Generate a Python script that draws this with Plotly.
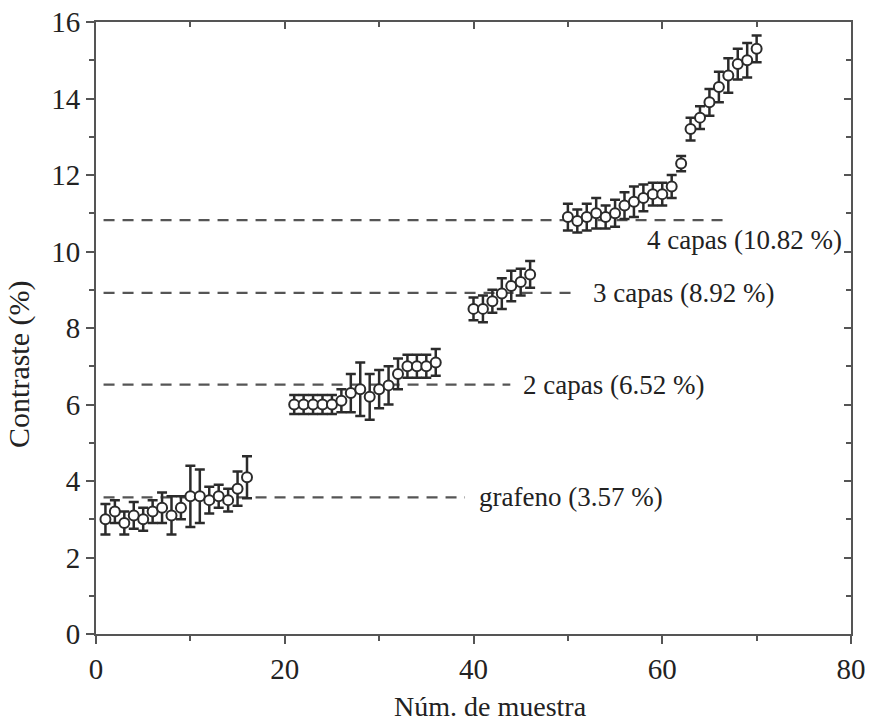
import plotly.graph_objects as go

# Optical contrast of each sample, grouped by number of layers
x_mono = list(range(1, 17))
y_mono = [3.0, 3.2, 2.9, 3.1, 3.0, 3.2, 3.3, 3.1, 3.3, 3.6, 3.6, 3.5, 3.6, 3.5, 3.8, 4.1]
e_mono = [0.4, 0.3, 0.3, 0.35, 0.3, 0.3, 0.4, 0.5, 0.3, 0.8, 0.7, 0.35, 0.3, 0.3, 0.45, 0.55]

x_bi = list(range(21, 37))
y_bi = [6.0, 6.0, 6.0, 6.0, 6.0, 6.1, 6.3, 6.4, 6.2, 6.4, 6.5, 6.8, 7.0, 7.0, 7.0, 7.1]
e_bi = [0.25, 0.25, 0.25, 0.25, 0.25, 0.3, 0.5, 0.7, 0.6, 0.5, 0.5, 0.4, 0.3, 0.3, 0.3, 0.35]

x_tri = list(range(40, 47))
y_tri = [8.5, 8.5, 8.7, 8.9, 9.1, 9.2, 9.4]
e_tri = [0.3, 0.35, 0.3, 0.4, 0.4, 0.35, 0.35]

x_four = list(range(50, 62))
y_four = [10.9, 10.8, 10.9, 11.0, 10.9, 11.0, 11.2, 11.3, 11.4, 11.5, 11.5, 11.7]
e_four = [0.35, 0.3, 0.35, 0.4, 0.3, 0.35, 0.35, 0.4, 0.35, 0.3, 0.3, 0.3]

x_more = list(range(62, 71))
y_more = [12.3, 13.2, 13.5, 13.9, 14.3, 14.6, 14.9, 15.0, 15.3]
e_more = [0.2, 0.3, 0.3, 0.35, 0.4, 0.45, 0.4, 0.45, 0.35]

# Reference contrast levels
level_values = [3.57, 6.52, 8.92, 10.82]
level_ends = [39.1, 43.9, 50.3, 66.6]
level_labels = ["grafeno (3.57 %)", "2 capas (6.52 %)", "3 capas (8.92 %)", "4 capas (10.82 %)"]
label_x = [40.4, 45.0, 52.4, 58.2]
label_y = [3.57, 6.52, 8.92, 10.3]

x_ticks = [0, 20, 40, 60, 80]
y_ticks = [0, 2, 4, 6, 8, 10, 12, 14, 16]

INK = "#2b2b2b"
AXIS = "#555555"
FONT = "Liberation Serif"

xs = x_mono + x_bi + x_tri + x_four + x_more
ys = y_mono + y_bi + y_tri + y_four + y_more
es = e_mono + e_bi + e_tri + e_four + e_more

fig = go.Figure()

for v, end in zip(level_values, level_ends):
    fig.add_trace(go.Scatter(
        x=[0.8, end], y=[v, v], mode="lines",
        line=dict(color="#555555", width=2.2, dash="11px,8px"),
        hoverinfo="skip", showlegend=False,
    ))

fig.add_trace(go.Scatter(
    x=xs, y=ys, mode="markers",
    marker=dict(symbol="circle", size=10, color="white",
                line=dict(color=INK, width=2)),
    error_y=dict(type="data", array=es, visible=True,
                 color=INK, thickness=2.5, width=5),
    showlegend=False,
))

# Mirror axes on top/right carrying inward ticks
fig.add_trace(go.Scatter(x=[0], y=[0], xaxis="x2", yaxis="y2",
                         mode="markers", marker=dict(opacity=0),
                         hoverinfo="skip", showlegend=False))

for txt, lx, ly in zip(level_labels, label_x, label_y):
    fig.add_annotation(x=lx, y=ly, text=txt, showarrow=False,
                       xanchor="left", yanchor="middle",
                       font=dict(family=FONT, size=27, color="#222222"))

# Axis titles
fig.add_annotation(text="Núm. de muestra", xref="paper", yref="paper",
                   x=0.522, y=-0.118, xanchor="center", yanchor="middle",
                   showarrow=False, font=dict(family=FONT, size=28, color="#222222"))
fig.add_annotation(text="Contraste (%)", xref="paper", yref="paper",
                   x=-0.103, y=0.44, xanchor="center", yanchor="middle",
                   textangle=-90, showarrow=False,
                   font=dict(family=FONT, size=30, color="#222222"))

axis_common = dict(showgrid=False, zeroline=False, showline=True,
                   linecolor=AXIS, linewidth=2, automargin=False)
major = dict(tickwidth=2, tickcolor=AXIS)

fig.update_layout(
    width=869, height=726,
    margin=dict(l=96, r=18, t=22, b=92),
    plot_bgcolor="white", paper_bgcolor="white",
    font=dict(family=FONT, size=26, color="#222222"),
    xaxis=dict(range=[0, 80], tickvals=x_ticks, ticks="outside", ticklen=8,
               tickfont=dict(size=29),
               minor=dict(dtick=10, ticks="outside", ticklen=5, **major),
               **major, **axis_common),
    yaxis=dict(range=[0, 16], tickvals=y_ticks, ticks="outside", ticklen=8,
               tickfont=dict(size=29),
               minor=dict(dtick=1, ticks="outside", ticklen=5, **major),
               **major, **axis_common),
    xaxis2=dict(range=[0, 80], overlaying="x", side="top", tickvals=x_ticks,
                ticks="inside", ticklen=7,
                minor=dict(dtick=10, ticks="inside", ticklen=5, **major),
                showticklabels=False, **major, **axis_common),
    yaxis2=dict(range=[0, 16], overlaying="y", side="right", tickvals=y_ticks,
                ticks="inside", ticklen=7,
                minor=dict(dtick=1, ticks="inside", ticklen=5, **major),
                showticklabels=False, **major, **axis_common),
)

fig.write_html("out.html")
